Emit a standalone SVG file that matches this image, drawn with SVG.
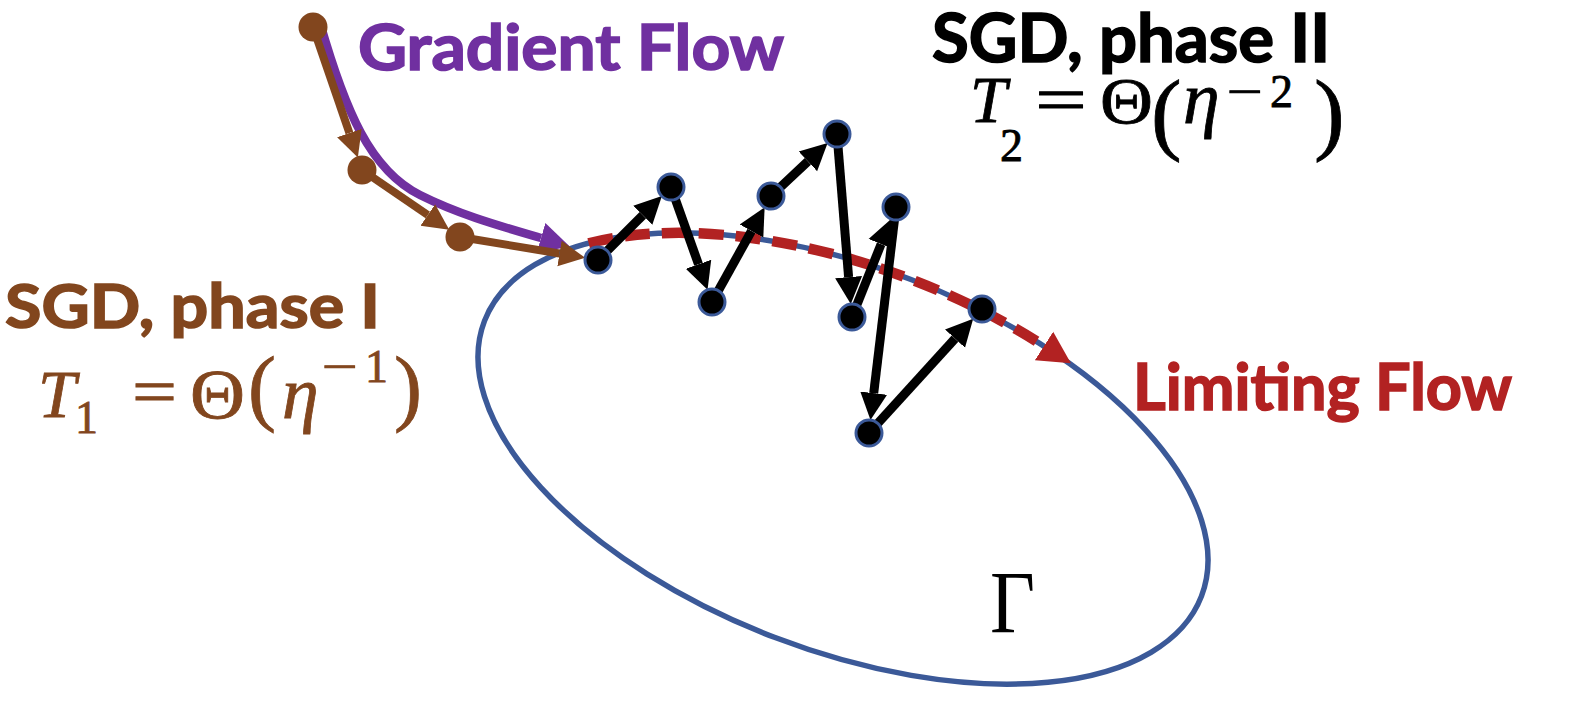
<svg xmlns="http://www.w3.org/2000/svg" width="1576" height="702" viewBox="0 0 1576 702">
<defs>
<style>
.lbl{font-family:Lato,"Liberation Sans",sans-serif;font-weight:700;stroke-width:1.6}
.m{font-family:"Liberation Serif","DejaVu Serif",serif;stroke-width:0.8}
.i{font-style:italic}
.blk{stroke:#000;stroke-width:9;fill:none}
.brn{stroke:#82461E;stroke-width:8;fill:none}
.node{fill:#000;stroke:#3B5998;stroke-width:3}
.bnode{fill:#82461E}
</style>
<marker id="ab" markerUnits="userSpaceOnUse" markerWidth="30" markerHeight="30" viewBox="0 -15 30 30" refX="0" refY="0" orient="auto"><path d="M0,-13.5 L27,0 L0,13.5 Z" fill="#000"/></marker>
<marker id="abr" markerUnits="userSpaceOnUse" markerWidth="30" markerHeight="30" viewBox="0 -15 30 30" refX="0" refY="0" orient="auto"><path d="M0,-13 L26,0 L0,13 Z" fill="#82461E"/></marker>
<marker id="ap" markerUnits="userSpaceOnUse" markerWidth="34" markerHeight="34" viewBox="0 -17 34 34" refX="0" refY="0" orient="auto"><path d="M0,-15.5 L30,0 L0,15.5 Z" fill="#7030A0"/></marker>
<marker id="ar" markerUnits="userSpaceOnUse" markerWidth="36" markerHeight="36" viewBox="0 -18 36 36" refX="0" refY="0" orient="auto"><path d="M0,-17 L32,0 L0,17 Z" fill="#B22222"/></marker>
</defs>
<rect width="1576" height="702" fill="#fff"/>

<g id="manifold">
<ellipse cx="843" cy="458.5" rx="384" ry="191.5" transform="rotate(21 843 458.5)" fill="none" stroke="#3B5998" stroke-width="5.5"/>
</g>

<g id="connectors">
<path id="limiting-flow" d="M588.7,243.3 A384,191.5 21 0 1 1044,346" fill="none" stroke="#B22222" stroke-width="10.5" stroke-dasharray="25 12" marker-end="url(#ar)"/>
<path id="gradient-flow" d="M320,23 C345,110 370,170 420,195 C460,215 500,226 541,238" fill="none" stroke="#7030A0" stroke-width="8.5" marker-end="url(#ap)"/>
<path class="brn" d="M313,27 L349.4,133" marker-end="url(#abr)"/>
<path class="brn" d="M362,170 L427.8,215" marker-end="url(#abr)"/>
<path class="brn" d="M460,237 L559.5,253.5" marker-end="url(#abr)"/>
<path class="blk" d="M598,260 L642.8,215.2" marker-end="url(#ab)"/>
<path class="blk" d="M671,187 L698.5,264.3" marker-end="url(#ab)"/>
<path class="blk" d="M712,302 L751.5,231" marker-end="url(#ab)"/>
<path class="blk" d="M771,196 L807.9,161.4" marker-end="url(#ab)"/>
<path class="blk" d="M837,134 L848.6,277.1" marker-end="url(#ab)"/>
<path class="blk" d="M852,317 L881.1,244.1" marker-end="url(#ab)"/>
<path class="blk" d="M896,207 L873.7,393.2" marker-end="url(#ab)"/>
<path class="blk" d="M869,433 L955,338.6" marker-end="url(#ab)"/>
</g>

<g id="sgd-phase1-points">
<circle class="bnode" cx="313" cy="27" r="14.5"/>
<circle class="bnode" cx="362" cy="170" r="14.5"/>
<circle class="bnode" cx="460" cy="237" r="14.5"/>
</g>

<g id="sgd-phase2-points">
<circle class="node" cx="598" cy="260" r="13"/>
<circle class="node" cx="671" cy="187" r="13"/>
<circle class="node" cx="712" cy="302" r="13"/>
<circle class="node" cx="771" cy="196" r="13"/>
<circle class="node" cx="837" cy="134" r="13"/>
<circle class="node" cx="896" cy="207" r="13"/>
<circle class="node" cx="852" cy="317" r="13"/>
<circle class="node" cx="869" cy="433" r="13"/>
<circle class="node" cx="982" cy="309" r="13"/>
</g>

<g id="label-gradient-flow">
<text class="lbl" x="358" y="70" font-size="64" fill="#7030A0" stroke="#7030A0" textLength="426" lengthAdjust="spacingAndGlyphs">Gradient Flow</text>
</g>

<g id="label-phase2">
<text class="lbl" x="932" y="62" font-size="66" fill="#000" stroke="#000" textLength="398" lengthAdjust="spacingAndGlyphs">SGD, phase II</text>
<text class="m" fill="#000" stroke="#000">
<tspan class="i" x="970" y="122" font-size="66">T</tspan>
<tspan x="1000" y="161" font-size="46">2</tspan>
<tspan x="1035" y="122" font-size="66" textLength="52" lengthAdjust="spacingAndGlyphs">=</tspan>
<tspan x="1100" y="123" font-size="66" textLength="53" lengthAdjust="spacingAndGlyphs">Θ</tspan>
<tspan x="1151" y="143" font-size="92">(</tspan>
<tspan class="i" x="1183" y="123" font-size="74">η</tspan>
<tspan x="1227" y="107" font-size="46" textLength="36" lengthAdjust="spacingAndGlyphs">−</tspan>
<tspan x="1270" y="107" font-size="46">2</tspan>
<tspan x="1314" y="143" font-size="92">)</tspan>
</text>
</g>

<g id="label-phase1">
<text class="lbl" x="5" y="328" font-size="62" fill="#82461E" stroke="#82461E" textLength="375" lengthAdjust="spacingAndGlyphs">SGD, phase I</text>
<text class="m" fill="#82461E" stroke="#82461E">
<tspan class="i" x="38" y="417" font-size="68">T</tspan>
<tspan x="75" y="433" font-size="46">1</tspan>
<tspan x="132" y="414" font-size="66" textLength="45" lengthAdjust="spacingAndGlyphs">=</tspan>
<tspan x="190" y="418" font-size="70" textLength="55" lengthAdjust="spacingAndGlyphs">Θ</tspan>
<tspan x="248" y="415" font-size="84">(</tspan>
<tspan class="i" x="282" y="418" font-size="74">η</tspan>
<tspan x="322" y="382" font-size="46" textLength="36" lengthAdjust="spacingAndGlyphs">−</tspan>
<tspan x="365" y="382" font-size="46">1</tspan>
<tspan x="394" y="415" font-size="84">)</tspan>
</text>
</g>

<g id="label-limiting-flow">
<text class="lbl" x="1133" y="410" font-size="65" fill="#B22222" stroke="#B22222" textLength="379" lengthAdjust="spacingAndGlyphs">Limiting Flow</text>
</g>

<g id="label-gamma">
<text class="m" x="990" y="632" font-size="88" fill="#000" textLength="45" lengthAdjust="spacingAndGlyphs">Γ</text>
</g>
</svg>
